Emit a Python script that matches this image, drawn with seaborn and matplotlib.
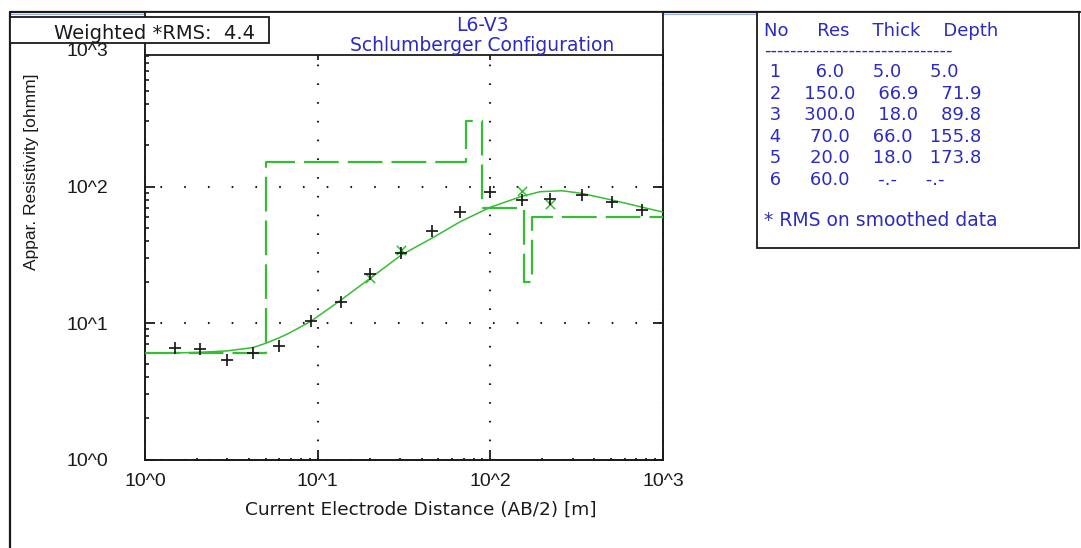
import numpy as np
import pandas as pd
import matplotlib
matplotlib.use("Agg")
import matplotlib.pyplot as plt
import seaborn as sns
from matplotlib.patches import Rectangle
from matplotlib.lines import Line2D
from matplotlib.ticker import FixedLocator, FixedFormatter, LogLocator, NullFormatter

# ---- Sounding data: AB/2 (m) and apparent resistivity (ohm-m) ----
ab2 = [1.5, 2.07, 3.0, 4.2, 6.0, 9.15, 13.6, 20.2, 30.5, 45.7, 66.9,
       100.0, 152.0, 223.0, 338.0, 506.0, 759.0]
rho_observed = [6.59, 6.48, 5.33, 6.0, 6.78, 10.3, 14.3, 23.0, 32.4, 47.2, 64.7,
                90.7, 79.6, 81.0, 86.6, 76.6, 67.6]
rho_smoothed = [6.59, 6.48, 5.33, 6.0, 6.78, 10.3, 14.3, 21.4, 34.3, 47.2, 64.7,
                90.7, 93.1, 74.5, 86.6, 76.6, 67.6]

# ---- Model response curve ----
curve_ab2 = [1.0, 1.5, 2.07, 3.0, 4.2, 5.0, 6.0, 6.8, 9.15, 13.6, 20.2, 30.5,
             45.7, 66.9, 100.0, 150.0, 194.0, 260.0, 338.0, 506.0, 759.0, 1000.0]
curve_rho = [6.0, 6.03, 6.1, 6.25, 6.6, 7.1, 7.8, 8.4, 10.3, 14.7, 21.3, 31.5,
             41.7, 55.2, 70.5, 84.2, 91.6, 93.1, 89.1, 79.6, 70.5, 65.0]

# ---- Layered earth model ----
layer_res = [6.0, 150.0, 300.0, 70.0, 20.0, 60.0]
layer_thick = [5.0, 66.9, 18.0, 66.0, 18.0]
layer_depth = [5.0, 71.9, 89.8, 155.8, 173.8]

decade_labels = ["10^0", "10^1", "10^2", "10^3"]
decades = [1, 10, 100, 1000]

title_lines = ["L6-V3", "Schlumberger Configuration"]
rms_text = "Weighted *RMS:  4.4"
x_label = "Current Electrode Distance (AB/2) [m]"
y_label = "Appar. Resistivity [ohmm]"
note_text = "* RMS on smoothed data"

# ---- Style ----
sns.set_style("ticks")
plt.rcParams["font.family"] = ["DejaVu Sans"]
plt.rcParams["lines.scale_dashes"] = False

GREEN = "#35bd35"
BLUE = "#2b2bc4"
INK = "#1a1a1a"

W, H = 1081, 548
fig = plt.figure(figsize=(W / 100, H / 100), dpi=100)
fig.patch.set_facecolor("white")


def fx(px):
    return px / W


def fy(py):
    return 1 - py / H


ax_l, ax_r, ax_t, ax_b = 145, 663, 50, 459.5
ax = fig.add_axes([fx(ax_l), fy(ax_b), fx(ax_r) - fx(ax_l), fy(ax_t) - fy(ax_b)])
ax.set_facecolor("white")
ax.set_xscale("log")
ax.set_yscale("log")

# ---- Data layers ----
obs = pd.DataFrame({"ab2": ab2, "observed": rho_observed, "smoothed": rho_smoothed})
# smoothed values are shown where smoothing moved the reading
shifted = obs[obs["smoothed"] != obs["observed"]]
model = pd.DataFrame({"ab2": curve_ab2, "rho": curve_rho})
steps = pd.DataFrame({"depth": [1.0] + layer_depth + [1000.0],
                      "res": layer_res + [layer_res[-1]]})

sns.lineplot(data=steps, x="depth", y="res", drawstyle="steps-post", color=GREEN,
             linewidth=1.6, estimator=None, sort=False, ax=ax, zorder=3)
step_line = ax.lines[-1]
step_line.set_linestyle((0, (25.0, 6.5)))

sns.lineplot(data=model, x="ab2", y="rho", color=GREEN, linewidth=1.1,
             estimator=None, sort=False, ax=ax, zorder=3)

sns.scatterplot(data=shifted, x="ab2", y="smoothed", marker="x", s=45, color=GREEN,
                linewidth=1.1, ax=ax, zorder=4)
sns.scatterplot(data=obs, x="ab2", y="observed", marker="+", s=80, color=INK,
                linewidth=1.25, ax=ax, zorder=5)

ax.set_xlim(1, 1000)
ax.set_ylim(1, 1000)
ax.set_xlabel("")
ax.set_ylabel("")

# ---- Axes, ticks, grid ----
for axis in (ax.xaxis, ax.yaxis):
    axis.set_major_locator(FixedLocator(decades))
    axis.set_major_formatter(FixedFormatter(decade_labels))
    axis.set_minor_locator(LogLocator(base=10, subs=np.arange(2, 10)))
    axis.set_minor_formatter(NullFormatter())

ax.tick_params(axis="x", which="major", direction="in", length=7, width=1.3,
               top=True, bottom=True, pad=9.5, labelsize=14, labelcolor=INK,
               labelfontfamily="Liberation Sans", color=INK)
ax.tick_params(axis="x", which="minor", direction="in", length=1.5, width=1.3,
               top=False, bottom=True, color=INK)
ax.tick_params(axis="y", which="major", direction="in", length=7.5, width=1.3,
               left=True, right=True, pad=26.4, labelsize=14, labelcolor=INK,
               labelfontfamily="Liberation Sans", color=INK)
ax.tick_params(axis="y", which="minor", direction="in", length=3, width=1.2,
               left=True, right=False, color=INK)

ax.xaxis.grid(True, which="major", color=INK, linewidth=1.5, linestyle=(0, (1.2, 12.3)))
ax.yaxis.grid(True, which="major", color=INK, linewidth=1.5, linestyle=(6, (1.2, 15.9)))
ax.set_axisbelow(True)

for sp in ax.spines.values():
    sp.set_visible(True)
    sp.set_linewidth(1.4)
    sp.set_color(INK)

# ---- Frame, header and boxes ----
fig.add_artist(Line2D([fx(10), fx(1080)], [fy(11.5), fy(11.5)], color=INK, lw=1.6, zorder=2))
fig.add_artist(Line2D([fx(10), fx(757)], [fy(13.5), fy(13.5)], color="#9fb0e6", lw=0.8, zorder=2))
fig.add_artist(Line2D([fx(10), fx(10)], [fy(11.5), fy(548)], color=INK, lw=1.6, zorder=2))

fig.add_artist(Rectangle((fx(145), fy(55)), fx(663) - fx(145), fy(11.5) - fy(55),
                         transform=fig.transFigure, facecolor="white", edgecolor=INK,
                         linewidth=1.3, zorder=2))
fig.add_artist(Rectangle((fx(10), fy(43)), fx(269) - fx(10), fy(17) - fy(43),
                         transform=fig.transFigure, facecolor="white", edgecolor=INK,
                         linewidth=1.3, zorder=3))
fig.add_artist(Rectangle((fx(757), fy(247.5)), fx(1079) - fx(757), fy(11.5) - fy(247.5),
                         transform=fig.transFigure, facecolor="white", edgecolor=INK,
                         linewidth=1.3, zorder=2))

# ---- Texts ----
fig.text(fx(155), fy(39), rms_text, ha="center", va="baseline", fontsize=14,
         color=INK, zorder=4)
fig.text(fx(482), fy(30.7), title_lines[0], ha="center", va="baseline", fontsize=13.5,
         color=BLUE, zorder=4)
fig.text(fx(482), fy(51.3), title_lines[1], ha="center", va="baseline", fontsize=13.5,
         color=BLUE, zorder=4)
fig.text(fx(421), fy(515), x_label, ha="center", va="baseline", fontsize=13.3, color=INK)
fig.text(fx(32), fy(171.5), y_label, ha="center", va="center", rotation=90,
         fontsize=12.5, family="Liberation Sans", color=INK)

# ---- Layer table ----
tx = 764
fig.text(fx(tx), fy(35.7), "No     Res    Thick    Depth", ha="left", va="baseline",
         fontsize=13, color=BLUE, zorder=4)
fig.text(fx(tx), fy(50.7), "-" * 29, ha="left", va="center", fontsize=13,
         color=BLUE, zorder=4)

thick_cells = [f"{t:.1f}" for t in layer_thick] + ["-.-"]
depth_cells = [f"{d:.1f}" for d in layer_depth] + ["-.-"]
for i, res in enumerate(layer_res):
    row = f" {i + 1}    {res:>5.1f}    {thick_cells[i]:>4}   {depth_cells[i]:>5}"
    fig.text(fx(tx), fy(77.3 + 21.55 * i), row, ha="left", va="baseline",
             fontsize=13, color=BLUE, zorder=4)

fig.text(fx(tx), fy(226), note_text, ha="left", va="baseline", fontsize=13.5,
         color=BLUE, zorder=4)

fig.savefig("out.png", dpi=100, facecolor="white")
